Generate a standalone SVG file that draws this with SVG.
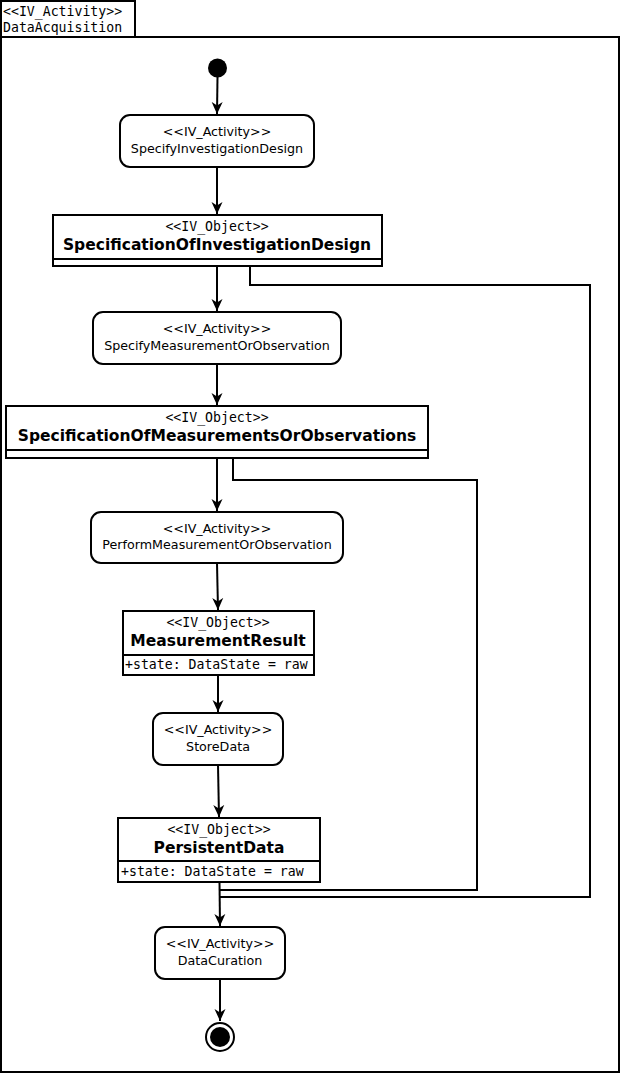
<svg xmlns="http://www.w3.org/2000/svg" width="620" height="1074" viewBox="0 0 620 1074">
<style>
.box{fill:#fff;stroke:#000;stroke-width:2}
.line{fill:none;stroke:#000;stroke-width:2}
.mono{font-family:"DejaVu Sans Mono",monospace;font-size:13.2px;fill:#000}
.act{font-family:"DejaVu Sans",sans-serif;font-size:12.7px;fill:#000}
.name{font-family:"DejaVu Sans",sans-serif;font-size:15.5px;font-weight:bold;fill:#000}
.c{text-anchor:middle}
</style>
<defs>
<marker id="arr" viewBox="0 0 12 12" refX="12" refY="6" markerWidth="12" markerHeight="12" markerUnits="userSpaceOnUse" orient="auto">
<path d="M0,0.5 L12,6 L0,11.5 L3.5,6 z" fill="#000"/>
</marker>
</defs>
<rect width="620" height="1074" fill="#fff"/>
<g id="frame">
<rect class="box" x="1" y="1" width="134" height="36"/>
<rect class="box" x="1" y="37" width="618" height="1035"/>
<text class="mono" x="3" y="16">&lt;&lt;IV_Activity&gt;&gt;</text>
<text class="mono" x="3" y="32">DataAcquisition</text>
</g>
<g id="connectors">
<path class="line" d="M217.5,77 L217,114" marker-end="url(#arr)"/>
<path class="line" d="M217,167 L217,214" marker-end="url(#arr)"/>
<path class="line" d="M217,266 L217,311" marker-end="url(#arr)"/>
<path class="line" d="M250,266 L250,285 L590,285 L590,897 L220,897"/>
<path class="line" d="M217,364 L217,405" marker-end="url(#arr)"/>
<path class="line" d="M217,458 L217,511" marker-end="url(#arr)"/>
<path class="line" d="M233,458 L233,480 L477,480 L477,890 L220,890"/>
<path class="line" d="M217,563 L218,610" marker-end="url(#arr)"/>
<path class="line" d="M218,675 L218,712" marker-end="url(#arr)"/>
<path class="line" d="M218,765 L219,817" marker-end="url(#arr)"/>
<path class="line" d="M219.5,882 L220,926" marker-end="url(#arr)"/>
<path class="line" d="M220,979 L220,1021" marker-end="url(#arr)"/>
</g>
<g id="start">
<circle cx="217.5" cy="68" r="9.5" fill="#000"/>
</g>
<g id="SpecifyInvestigationDesign">
<rect class="box" x="120" y="115" width="194" height="52" rx="10"/>
<text class="act c" x="217" y="136">&lt;&lt;IV_Activity&gt;&gt;</text>
<text class="act c" x="217" y="153">SpecifyInvestigationDesign</text>
</g>
<g id="SpecificationOfInvestigationDesign">
<rect class="box" x="53" y="215" width="329" height="51"/>
<line class="line" x1="53" y1="259" x2="382" y2="259"/>
<text class="mono c" x="217" y="231">&lt;&lt;IV_Object&gt;&gt;</text>
<text class="name c" x="217" y="250">SpecificationOfInvestigationDesign</text>
</g>
<g id="SpecifyMeasurementOrObservation">
<rect class="box" x="93" y="312" width="248" height="52" rx="10"/>
<text class="act c" x="217" y="333">&lt;&lt;IV_Activity&gt;&gt;</text>
<text class="act c" x="217" y="350">SpecifyMeasurementOrObservation</text>
</g>
<g id="SpecificationOfMeasurementsOrObservations">
<rect class="box" x="6" y="406" width="422" height="52"/>
<line class="line" x1="6" y1="450" x2="428" y2="450"/>
<text class="mono c" x="217" y="422">&lt;&lt;IV_Object&gt;&gt;</text>
<text class="name c" x="217" y="441">SpecificationOfMeasurementsOrObservations</text>
</g>
<g id="PerformMeasurementOrObservation">
<rect class="box" x="91" y="512" width="252" height="51" rx="10"/>
<text class="act c" x="217" y="533">&lt;&lt;IV_Activity&gt;&gt;</text>
<text class="act c" x="217" y="549">PerformMeasurementOrObservation</text>
</g>
<g id="MeasurementResult">
<rect class="box" x="123" y="611" width="191" height="64"/>
<line class="line" x1="123" y1="655" x2="314" y2="655"/>
<text class="mono c" x="218" y="627">&lt;&lt;IV_Object&gt;&gt;</text>
<text class="name c" x="218" y="646">MeasurementResult</text>
<text class="mono" x="125" y="669">+state: DataState = raw</text>
</g>
<g id="StoreData">
<rect class="box" x="153" y="713" width="130" height="52" rx="10"/>
<text class="act c" x="218" y="734">&lt;&lt;IV_Activity&gt;&gt;</text>
<text class="act c" x="218" y="751">StoreData</text>
</g>
<g id="PersistentData">
<rect class="box" x="118" y="818" width="202" height="64"/>
<line class="line" x1="118" y1="861" x2="320" y2="861"/>
<text class="mono c" x="219" y="834">&lt;&lt;IV_Object&gt;&gt;</text>
<text class="name c" x="219" y="853">PersistentData</text>
<text class="mono" x="121" y="876">+state: DataState = raw</text>
</g>
<g id="DataCuration">
<rect class="box" x="155" y="927" width="130" height="52" rx="10"/>
<text class="act c" x="220" y="948">&lt;&lt;IV_Activity&gt;&gt;</text>
<text class="act c" x="220" y="965">DataCuration</text>
</g>
<g id="end">
<circle cx="220" cy="1037" r="14" fill="#fff" stroke="#000" stroke-width="2"/>
<circle cx="220" cy="1037" r="10" fill="#000"/>
</g>
</svg>
